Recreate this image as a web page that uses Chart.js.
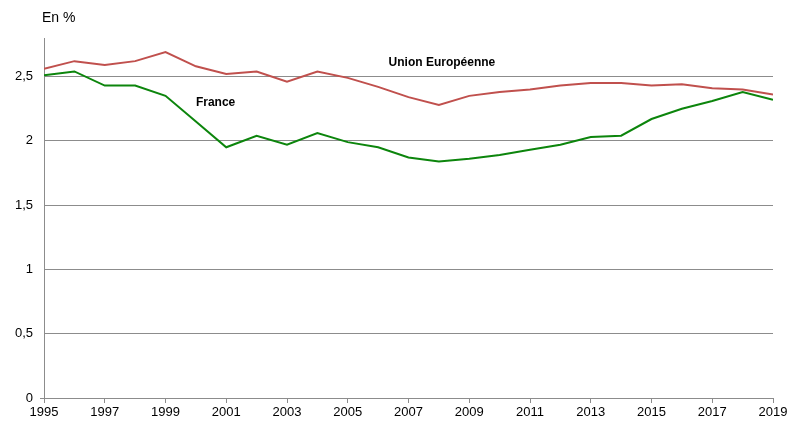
<!DOCTYPE html>
<html>
<head>
<meta charset="utf-8">
<script src="https://cdn.jsdelivr.net/npm/chart.js@4"></script>
<style>
  html, body { margin: 0; padding: 0; background: #fff; }
  #wrap { width: 802px; height: 427px; }
</style>
</head>
<body>
<div id="wrap"><canvas id="graph" width="802" height="427"></canvas></div>
<script>
// Années et valeurs (en %)
const annees = [1995, 1996, 1997, 1998, 1999, 2000, 2001, 2002, 2003, 2004, 2005, 2006,
  2007, 2008, 2009, 2010, 2011, 2012, 2013, 2014, 2015, 2016, 2017, 2018, 2019];
const ue = [2.56, 2.62, 2.59, 2.62, 2.69, 2.58, 2.52, 2.54, 2.46, 2.54, 2.49, 2.42,
  2.34, 2.28, 2.35, 2.38, 2.40, 2.43, 2.45, 2.45, 2.43, 2.44, 2.41, 2.40, 2.36];
const france = [2.51, 2.54, 2.43, 2.43, 2.35, 2.15, 1.95, 2.04, 1.97, 2.06, 1.99, 1.95,
  1.87, 1.84, 1.86, 1.89, 1.93, 1.97, 2.03, 2.04, 2.17, 2.25, 2.31, 2.38, 2.32];
const yTicks = [0, 0.5, 1, 1.5, 2, 2.5];

// étiquettes placées dans le graphique (coordonnées en données)
const etiquettes = [
  { texte: 'Union Européenne', x: 2008.1, y: 2.61 },
  { texte: 'France', x: 2000.65, y: 2.30 }
];

const gris = '#8c8c8c';
const police = "'Liberation Sans', Arial, sans-serif";

const textesPlugin = {
  id: 'textes',
  afterDatasetsDraw(chart) {
    const ctx = chart.ctx;
    const sx = chart.scales.x, sy = chart.scales.y;
    ctx.save();
    ctx.fillStyle = '#000';
    ctx.font = 'bold 12px ' + police;
    ctx.textAlign = 'center';
    ctx.textBaseline = 'middle';
    etiquettes.forEach(e => {
      ctx.fillText(e.texte, sx.getPixelForValue(e.x), sy.getPixelForValue(e.y));
    });
    ctx.font = '14px ' + police;
    ctx.textAlign = 'left';
    ctx.fillText('En %', 42, 18);
    // petit trait à gauche du zéro
    ctx.strokeStyle = gris;
    ctx.lineWidth = 1;
    ctx.beginPath();
    ctx.moveTo(sx.left - 4, Math.round(sy.getPixelForValue(0)) + 0.5);
    ctx.lineTo(sx.left, Math.round(sy.getPixelForValue(0)) + 0.5);
    ctx.stroke();
    ctx.restore();
  }
};

new Chart(document.getElementById('graph'), {
  type: 'line',
  data: {
    datasets: [{
      label: 'Union Européenne',
      data: annees.map((a, i) => ({ x: a, y: ue[i] })),
      borderColor: '#c0504d',
      borderWidth: 2,
      pointRadius: 0,
      tension: 0
    }, {
      label: 'France',
      data: annees.map((a, i) => ({ x: a, y: france[i] })),
      borderColor: '#0c850c',
      borderWidth: 2,
      pointRadius: 0,
      tension: 0
    }]
  },
  options: {
    responsive: false,
    animation: false,
    devicePixelRatio: 1,
    layout: { padding: { top: 38, right: 29, left: 0, bottom: 0 } },
    plugins: {
      legend: { display: false },
      tooltip: { enabled: false }
    },
    scales: {
      x: {
        type: 'linear',
        min: 1995,
        max: 2019,
        afterFit(scale) { scale.height = 29; },
        ticks: {
          stepSize: 2,
          autoSkip: false,
          maxRotation: 0,
          padding: 2,
          color: '#000',
          font: { family: police, size: 13 },
          callback: v => String(v)
        },
        grid: { drawOnChartArea: false, drawTicks: true, tickLength: 5, color: gris },
        border: { color: gris, width: 1 }
      },
      y: {
        min: 0,
        max: 2.8,
        afterFit(scale) { scale.width = 44; },
        afterBuildTicks(scale) { scale.ticks = yTicks.map(v => ({ value: v })); },
        ticks: {
          padding: 11,
          color: '#000',
          font: { family: police, size: 13 },
          callback: v => String(v).replace('.', ',')
        },
        grid: { drawTicks: false, color: gris, lineWidth: 1 },
        border: { color: gris, width: 1 }
      }
    }
  },
  plugins: [textesPlugin]
});
</script>
</body>
</html>
